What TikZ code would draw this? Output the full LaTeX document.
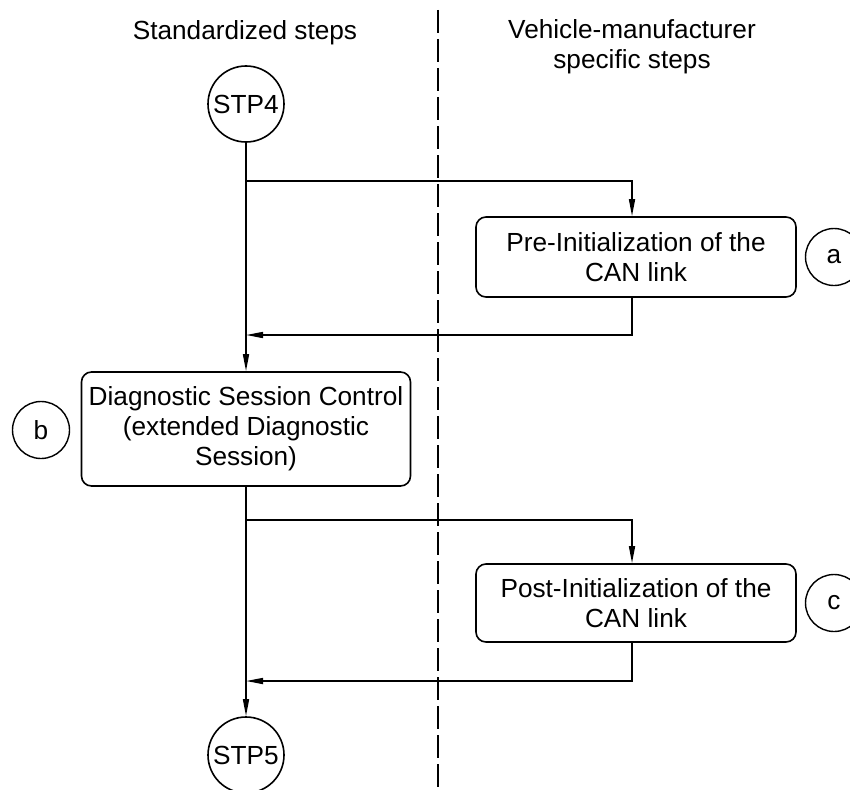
\documentclass[tikz,border=0pt]{standalone}
\usepackage{fontspec}
\setmainfont{Liberation Sans}
\usetikzlibrary{arrows.meta}
\begin{document}
\begin{tikzpicture}[x=1pt,y=-1pt,
  every node/.style={font=\fontsize{26.2}{30}\selectfont},
  arr/.style={line width=1.6pt,-{Triangle[length=17pt,width=6pt]}},
  box/.style={draw,line width=1.6pt,rounded corners=10pt,align=center,inner sep=0pt},
  stp/.style={draw,circle,line width=1.6pt,minimum size=76pt,inner sep=0pt},
  tag/.style={draw,circle,line width=1.4pt,minimum size=57pt,inner sep=0pt}]
\clip (0,0) rectangle (850,789);
\useasboundingbox (0,0) rectangle (850,789);
% headers
\node (h1) at (245,33) {Standardized steps};
\node[align=center] (h2) at (632,47) {Vehicle-manufacturer\\specific steps};
% divider
\coordinate (d1) at (438,10);
\coordinate (d2) at (438,795);
\draw[line width=1.6pt,dash pattern=on 23pt off 6pt] (d1) -- (d2);
% nodes
\node[stp] (stp4) at (246,104) {STP4};
\node[box,minimum width=320pt,minimum height=80pt] (boxa) at (636,257) {Pre-Initialization of the\\CAN link};
\node[tag] (ta) at (834,257) {a};
\node[box,minimum width=329pt,minimum height=114pt] (boxb) at (246,429) {Diagnostic Session Control\\(extended Diagnostic\\Session)};
\node[tag] (tb) at (41,430) {b};
\node[box,minimum width=320pt,minimum height=78pt] (boxc) at (636,603) {Post-Initialization of the\\CAN link};
\node[tag] (tc) at (834,603) {c};
\node[stp] (stp5) at (246,755) {STP5};
% helper coordinates
\coordinate (s1) at (246,181);
\coordinate (a1) at (632,181);
\coordinate (r1) at (246,335);
\coordinate (a2) at (632,335);
\coordinate (s2) at (246,520);
\coordinate (c1) at (632,520);
\coordinate (r2) at (246,681);
\coordinate (c2) at (632,681);
% connectors
\draw[arr] (stp4.south) -- (boxb.north);
\draw[arr] (s1) -- (a1) -- (a1 |- boxa.north);
\draw[arr] (a1 |- boxa.south) -- (a2) -- (r1);
\draw[arr] (boxb.south) -- (stp5.north);
\draw[arr] (s2) -- (c1) -- (c1 |- boxc.north);
\draw[arr] (c1 |- boxc.south) -- (c2) -- (r2);
\end{tikzpicture}
\end{document}
